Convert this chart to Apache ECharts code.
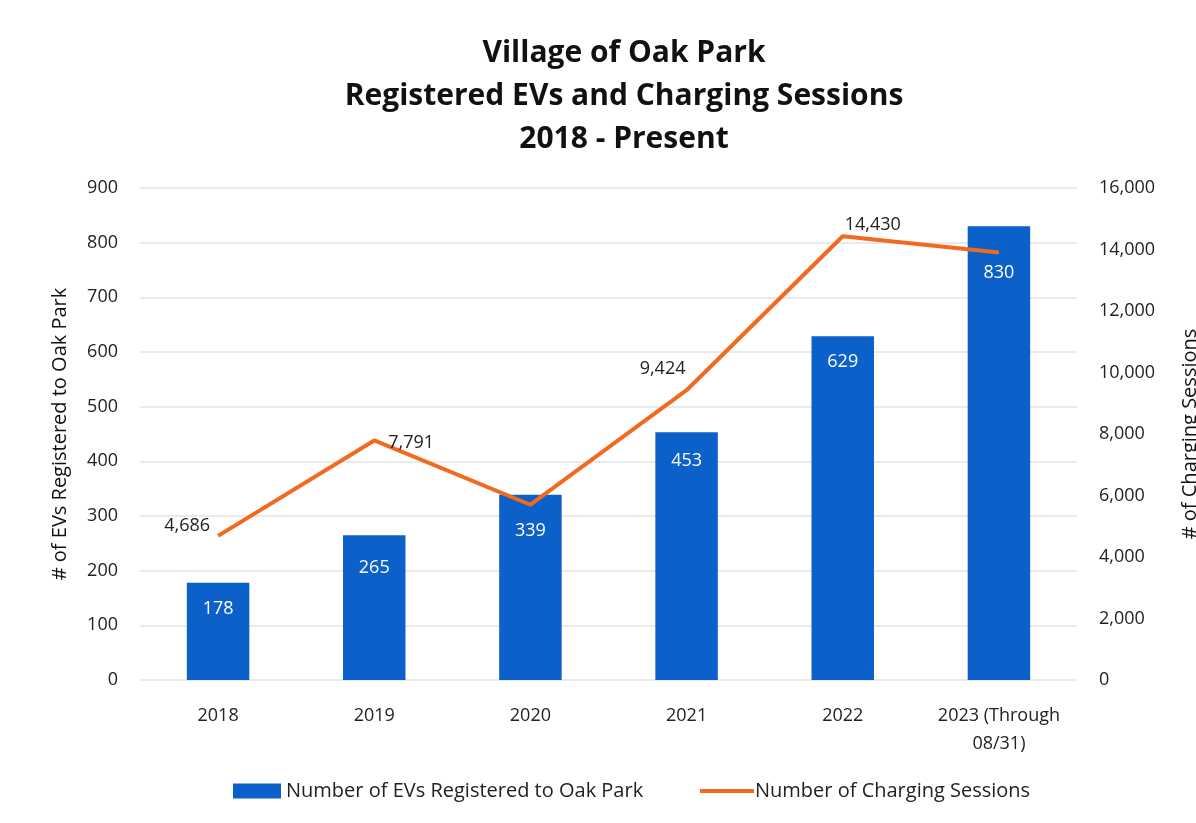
<!DOCTYPE html>
<html><head><meta charset="utf-8">
<script src="https://cdn.jsdelivr.net/npm/echarts@6/dist/echarts.min.js"></script>
<style>html,body{margin:0;padding:0;background:#fff;overflow:hidden}#c{width:1196px;height:823px}</style>
</head><body><div id="c"></div>
<script>
const categories = ['2018','2019','2020','2021','2022','2023 (Through\n08/31)'];
const evsRegistered = [178, 265, 339, 453, 629, 830];
const chargingSessions = [4686, 7791, 5700, 9424, 14430, 13900];
const sessionLabelShown = [true, true, false, true, true, false];
const leftTicks = {min: 0, max: 900, interval: 100};
const rightTicks = {min: 0, max: 16000, interval: 2000};

const FONT = 'Open Sans';
const labelPos = [
  {position: 'left', distance: 8, offset: [0, -10]},
  {position: 'right', distance: 2, offset: [12, 2]},
  null,
  {position: 'top', distance: 12, offset: [-24, 0]},
  {position: 'top', distance: 2, offset: [30, 0]},
  null
];
const barLabelOffset = [0, 7, 10, 3, 0, 21];

const lineData = chargingSessions.map((v, i) => {
  const d = {value: v};
  if (sessionLabelShown[i]) {
    d.label = {show: true, position: labelPos[i].position, distance: labelPos[i].distance, offset: labelPos[i].offset};
  } else {
    d.label = {show: false};
  }
  return d;
});
const barData = evsRegistered.map((v, i) => ({value: v, label: {offset: [0, barLabelOffset[i]]}}));

const chart = echarts.init(document.getElementById('c'));
chart.setOption({
  backgroundColor: '#fff',
  textStyle: {fontFamily: FONT},
  title: {
    text: 'Village of Oak Park\nRegistered EVs and Charging Sessions\n2018 - Present',
    left: 619, top: 27, textAlign: 'center',
    textStyle: {fontFamily: FONT, fontSize: 30, fontWeight: 'bold', color: '#111', lineHeight: 43}
  },
  legend: [
    {
      left: 228, top: 776, itemWidth: 48, itemHeight: 15,
      textStyle: {fontFamily: FONT, fontSize: 20, color: '#222'},
      data: [{name: 'Number of EVs Registered to Oak Park', icon: 'rect'}]
    },
    {
      left: 695, top: 776, itemWidth: 54, itemHeight: 15, itemGap: 0,
      textStyle: {fontFamily: FONT, fontSize: 20, color: '#222', padding: [0, 0, 0, -4]},
      data: [{name: 'Number of Charging Sessions', icon: 'path://M0,0 L0,0 M0,5.5 L54,5.5 L54,9.5 L0,9.5 Z M0,15 L0,15'}]
    }
  ],
  grid: {left: 140, right: 119, top: 188, bottom: 143, outerBoundsMode: 'none', containLabel: false},
  xAxis: {
    type: 'category', data: categories,
    axisLine: {show: false}, axisTick: {show: false},
    axisLabel: {fontFamily: FONT, fontSize: 18, color: '#222', margin: 22, lineHeight: 28, interval: 0}
  },
  yAxis: [
    {
      type: 'value', min: leftTicks.min, max: leftTicks.max, interval: leftTicks.interval,
      name: '# of EVs Registered to Oak Park', nameLocation: 'middle', nameGap: 70, nameRotate: 90,
      nameTextStyle: {fontFamily: FONT, fontSize: 20, color: '#111'},
      axisLine: {show: false}, axisTick: {show: false},
      axisLabel: {fontFamily: FONT, fontSize: 18, color: '#222', margin: 22},
      splitLine: {lineStyle: {color: '#e3e3e3', width: 1.5}}
    },
    {
      type: 'value', min: rightTicks.min, max: rightTicks.max, interval: rightTicks.interval,
      name: '# of Charging Sessions', nameLocation: 'middle', nameGap: 103, nameRotate: 90,
      nameTextStyle: {fontFamily: FONT, fontSize: 20, color: '#111'},
      axisLine: {show: false}, axisTick: {show: false},
      axisLabel: {fontFamily: FONT, fontSize: 18, color: '#222', margin: 22,
        formatter: v => v.toLocaleString('en-US')},
      splitLine: {show: false}
    }
  ],
  series: [
    {
      name: 'Number of EVs Registered to Oak Park', type: 'bar', yAxisIndex: 0,
      data: barData, barWidth: '40%',
      itemStyle: {color: '#0b60c9'},
      label: {show: true, position: 'insideTop', distance: 17, color: '#fff', fontFamily: FONT, fontSize: 18}
    },
    {
      name: 'Number of Charging Sessions', type: 'line', yAxisIndex: 1,
      data: lineData, symbol: 'circle', symbolSize: 0.01, showSymbol: true, z: 5,
      lineStyle: {color: '#f26a1f', width: 4},
      itemStyle: {color: '#f26a1f'},
      label: {color: '#222', fontFamily: FONT, fontSize: 18,
        formatter: p => p.value.toLocaleString('en-US')}
    }
  ]
});
</script></body></html>
